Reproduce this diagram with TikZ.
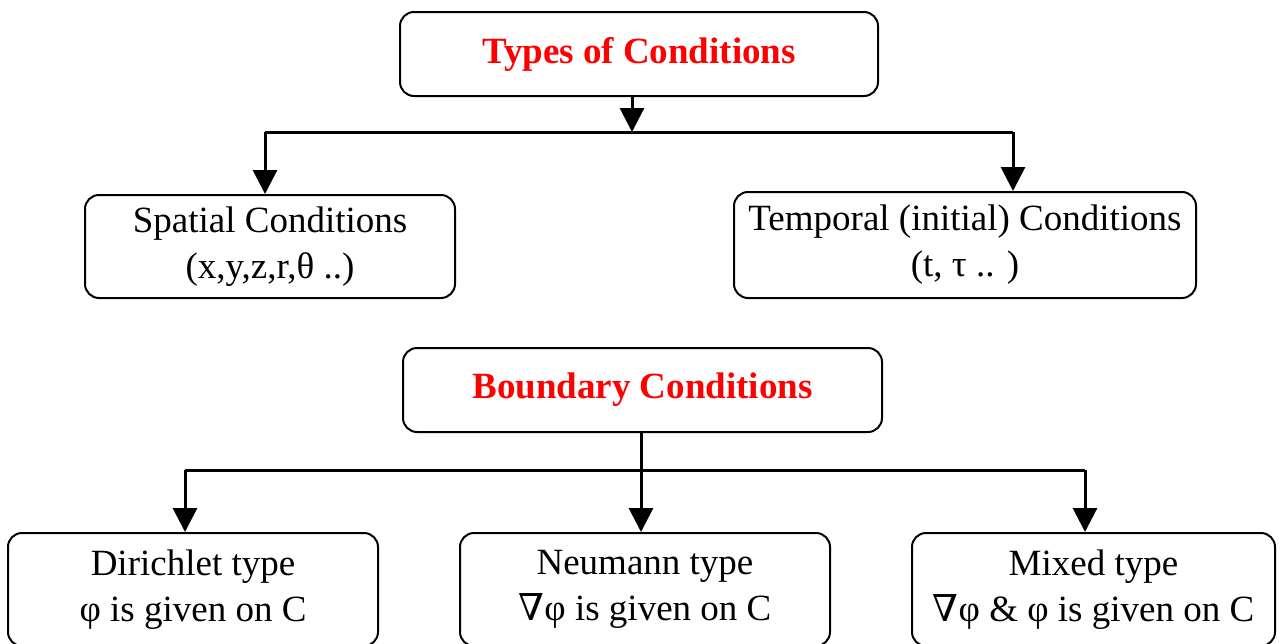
\documentclass[tikz,border=0pt]{standalone}
\usepackage{fontspec}
\setmainfont{Liberation Serif}
\newfontfamily\nablafont{DejaVu Serif}
\newcommand{\nab}{{\nablafont ∇}}
\usetikzlibrary{arrows.meta}
\tikzset{
  box/.style={draw, rounded corners=14pt, line width=2pt, align=center, inner sep=0pt},
  headbox/.style={box, text=red, font=\fontsize{37}{46}\selectfont\bfseries},
  link/.style={line width=3pt},
  arr/.style={line width=3pt, -{Triangle[length=24pt,width=24pt]}}
}
\begin{document}
\begin{tikzpicture}[x=1pt, y=-1pt, every node/.append style={font=\fontsize{37}{46}\selectfont}]
    \useasboundingbox (0,0) rectangle (1280,643);
    \clip (0,0) rectangle (1280,643);
    % types of conditions
    \node[headbox, minimum width=478pt, minimum height=84pt] (types) at (639,54) {Types of Conditions};
    \node[box, minimum width=370pt, minimum height=103pt] (spatial) at (270,246.5) {Spatial Conditions\\(x,y,z,r,θ ..)};
    \node[box, minimum width=462pt, minimum height=106pt] (temporal) at (965,245) {Temporal (initial) Conditions\\(t, τ .. )};
    \coordinate (tmid) at (632,132);
    \coordinate (tleft) at (265,132);
    \coordinate (tright) at (1013,132);
    \draw[arr] (types.south -| tmid) -- (tmid);
    \draw[link] (tleft) -- (tright);
    \draw[arr] (tleft) -- (tleft |- spatial.north);
    \draw[arr] (tright) -- (tright |- temporal.north);
    % boundary conditions
    \node[headbox, minimum width=479pt, minimum height=84pt] (boundary) at (642.5,390) {Boundary Conditions};
    \node[box, minimum width=370pt, minimum height=113pt] (dirichlet) at (193,589.5) {Dirichlet type\\φ is given on C};
    \node[box, minimum width=370pt, minimum height=113pt] (neumann) at (645,589.5) {Neumann type\\\nab φ is given on C};
    \node[box, minimum width=363pt, minimum height=113pt] (mixed) at (1093.5,589.5) {Mixed type\\\nab φ \& φ is given on C};
    \coordinate (bleft) at (185,470);
    \coordinate (bmid) at (641,470);
    \coordinate (bright) at (1085,470);
    \draw[link] (boundary.south -| bmid) -- (bmid);
    \draw[link] (bleft) -- (bright);
    \draw[arr] (bleft) -- (bleft |- dirichlet.north);
    \draw[arr] (bmid) -- (bmid |- neumann.north);
    \draw[arr] (bright) -- (bright |- mixed.north);
\end{tikzpicture}
\end{document}
